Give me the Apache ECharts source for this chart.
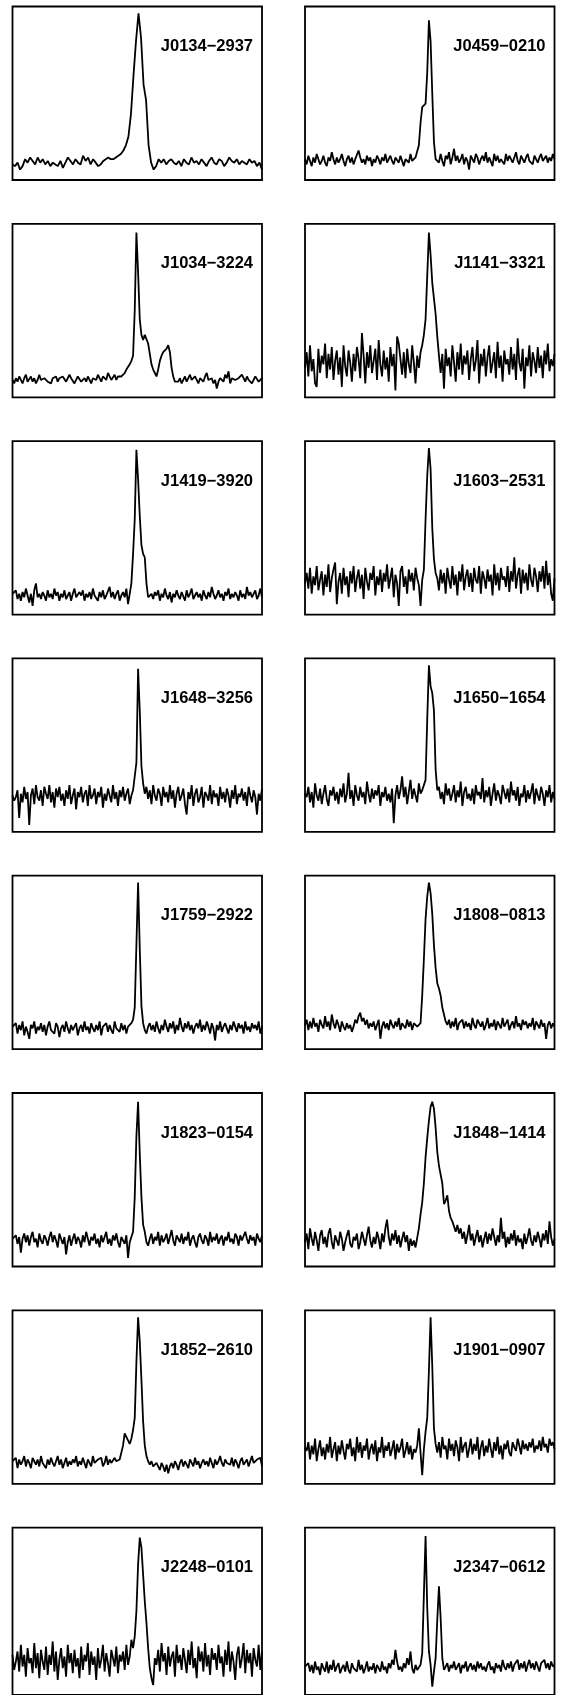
<!DOCTYPE html>
<html><head><meta charset="utf-8">
<script src="https://cdn.jsdelivr.net/npm/echarts@6/dist/echarts.min.js"></script>
<style>html,body{margin:0;padding:0;background:#fff}#c{width:566px;height:1695px}</style>
</head><body><div id="c"></div>
<script>
const names = ["J0134\u22122937","J0459\u22120210","J1034\u22123224","J1141\u22123321",
"J1419\u22123920","J1603\u22122531","J1648\u22123256","J1650\u22121654",
"J1759\u22122922","J1808\u22120813","J1823\u22120154","J1848\u22121414",
"J1852\u22122610","J1901\u22120907","J2248\u22120101","J2347\u22120612"];

const sJ0134 = [9,8,10,6,8,12,10,13,11,9,
13,10,12,9,11,8,10,9,8,11,
7,10,13,11,9,12,10,9,14,11,
13,9,12,10,8,9,11,12,13,12,
12,13,14,15,17,20,25,38,60,80,
96,82,55,46,20,10,6,8,12,10,
12,9,11,12,10,9,11,8,12,10,
9,13,10,11,9,12,10,8,11,13,
10,9,12,11,8,10,13,11,10,12,
9,11,10,9,12,10,11,8,10,6];

const sJ0459 = [12,9,14,11,8,13,10,15,12,9,
11,14,10,8,13,11,16,12,9,13,
10,12,15,11,8,12,14,10,13,9,
12,11,17,13,10,12,9,14,11,13,
8,12,10,14,12,9,13,11,15,10,
12,14,11,9,13,12,10,14,11,8,
12,13,10,15,11,12,13,
13,20,33,42,41,44,62,92,80,50,22,12,
13,10,15,11,8,14,12,16,9,13,
18,11,14,10,12,15,9,13,11,6,
14,12,10,15,13,9,12,14,11,16,
10,13,12,8,15,11,14,10,12,13,
9,15,11,14,12,10,13,16,11,9,
14,12,10,13,15,11,12,9,14,12,
10,13,15,11,12,14,10,13,11,15,
12];

const sJ1034 = [10,8,11,9,12,10,8,11,13,9,
10,12,9,11,8,10,13,10,9,11,
12,9,10,8,11,10,12,9,11,10,
12,11,9,10,13,11,10,8,10,12,
11,9,10,11,9,12,10,8,11,12,
10,13,11,9,12,11,10,14,12,10,
11,13,10,12,11,12,
13,14,16,17,19,21,24,50,95,72,45,36,33,36,37,31,25,19,16,14,12,16,21,24,26,25,28,30,26,17,12,9,10,
9,11,8,10,12,9,11,13,10,9,
12,10,8,11,10,9,12,14,10,9,
11,8,10,5,9,11,10,9,13,11,
15,8,11,12,10,9,11,10,13,11,
9,12,10,11,8,10,12,11,9,10,
11];

const sJ1141 = [17,26,12,30,15,22,8,6,28,14,
24,19,31,11,25,16,29,10,21,27,
13,23,6,30,18,12,27,20,9,25,
15,29,22,11,37,24,8,26,17,30,
14,21,28,10,33,19,12,27,16,23,
9,29,18,25,4,35,31,22,13,26,
11,28,19,14,30,20,8,24,17,26,
30,36,45,70,95,82,66,57,48,35,24,
14,25,5,28,18,23,12,30,20,9,
26,16,31,13,24,19,27,10,22,29,
15,21,33,8,25,18,28,12,23,30,
14,20,26,11,32,17,24,9,27,19,
22,13,29,16,25,10,34,20,15,28,
5,23,18,30,12,26,21,14,29,17,
24,11,27,19,31,15,22,18,25];

const sJ1419 = [12,11,14,9,12,8,13,10,15,11,7,
12,5,14,18,10,12,9,13,11,8,
14,10,12,9,15,11,13,8,12,10,
14,9,11,13,8,12,15,10,9,13,
11,14,8,12,10,13,9,15,11,12,
8,13,10,14,9,11,12,16,10,13,
9,12,14,8,11,13,10,15,6,
12,18,35,55,95,78,57,40,35,33,18,10,9,
12,9,13,11,14,8,12,10,15,11,
9,13,7,12,10,14,11,9,13,12,
8,14,10,12,15,9,11,13,10,12,
8,14,11,9,13,10,16,12,9,11,
14,10,12,8,13,11,15,9,12,10,
13,11,8,14,10,12,9,16,11,13,
10,12,14,9,11,15,10];

const sJ1603 = [18,24,15,27,12,22,17,28,14,20,
25,11,23,16,29,13,21,26,30,6,
19,24,12,27,17,22,10,25,18,28,
13,21,26,15,23,9,27,19,14,24,
20,28,11,22,17,26,13,24,19,29,
15,21,27,10,23,18,5,25,28,16,
22,12,26,19,24,14,27,21,17,5,
20,26,55,80,96,84,50,32,24,
21,14,26,18,24,12,27,20,15,28,
17,23,11,25,19,29,14,22,26,16,
24,13,27,20,18,28,12,25,21,15,
26,19,23,11,29,17,24,14,27,20,
22,16,28,13,25,19,33,15,23,27,
12,26,18,24,14,29,20,16,27,22,
13,25,19,28,15,31,17,24,12,8,
21];

const sJ1648 = [21,18,20,24,8,22,17,26,19,23,4,21,
25,16,27,20,18,24,15,26,22,19,
27,17,23,14,25,20,26,18,22,15,
24,19,27,16,21,25,13,23,20,26,
17,22,24,15,27,19,21,25,16,23,
20,26,14,22,18,25,21,17,27,19,
23,15,24,20,26,18,22,25,16,21,
24,23,
40,94,70,38,28,22,
26,19,24,16,27,21,18,25,22,15,
26,20,23,17,27,19,24,14,22,26,
18,21,25,16,10,23,19,27,15,22,
25,17,20,26,14,23,21,18,27,16,
24,20,22,15,26,19,23,17,25,21,
14,24,19,27,16,22,20,25,18,23,
15,26,21,17,24,20,10,22,18,25];

const sJ1650 = [22,20,26,17,23,14,28,21,18,25,16,
22,27,19,15,24,21,26,18,23,16,
25,20,28,17,22,34,19,24,15,27,
21,18,26,20,23,16,29,22,17,25,
19,24,21,27,15,23,20,26,18,22,
17,25,5,21,27,19,24,32,20,26,
16,23,30,19,25,21,17,28,22,24,
24,30,65,96,84,80,70,36,24,
26,19,23,16,28,21,25,18,22,27,
17,24,20,29,15,23,26,19,22,18,
25,16,27,21,23,19,31,17,24,20,
26,15,22,28,18,24,21,16,27,23,
19,25,17,29,21,24,18,26,15,22,
20,27,17,24,19,23,28,16,25,21,
18,26,22,15,24,20,27,17,23,19];

const sJ1759 = [13,12,15,9,14,11,16,8,13,10,6,
14,12,16,9,13,11,15,10,14,8,
13,16,11,12,9,15,13,7,12,14,
10,16,12,9,14,11,13,15,8,12,
14,10,16,11,13,9,15,12,10,14,
11,16,8,13,12,15,10,14,11,9,
16,12,13,10,15,11,14,9,13,12,
15,
17,24,60,96,58,25,15,11,
9,13,15,11,14,10,16,12,9,14,
11,17,13,10,15,12,16,9,14,11,
18,13,10,15,12,16,11,14,9,13,
15,12,17,10,14,11,16,13,9,15,
12,5,14,11,16,10,13,15,12,9,
14,11,16,13,10,15,12,14,9,16,
11,13,10,15,12,14,11,16,9,13];

const sJ1808 = [14,17,11,16,12,18,13,15,10,17,
14,12,19,13,16,11,20,15,12,17,
14,10,16,13,11,15,12,14,10,13,
17,15,19,21,16,18,14,17,12,15,
13,16,11,14,17,6,13,16,12,15,
11,17,14,12,16,13,18,11,15,14,
12,17,13,16,11,15,14,13,
12,15,31,52,75,88,96,90,78,60,47,38,35,31,24,20,16,
14,17,12,16,13,18,11,15,14,17,
12,16,13,15,11,18,14,12,17,15,
13,16,11,14,18,12,15,13,17,11,
16,14,12,18,13,15,17,11,14,16,
12,19,13,15,11,17,14,16,12,15,
13,18,11,16,14,12,17,13,15,6,
14,16,12,15,13];

const sJ1823 = [16,15,18,13,17,8,16,19,14,18,12,
17,20,14,16,11,19,15,13,18,16,
12,17,20,14,18,15,11,19,16,13,
17,7,14,18,12,16,19,13,17,15,
11,18,14,20,16,12,17,15,19,13,
16,11,18,14,17,20,13,16,12,18,
15,19,14,11,17,16,13,18,5,14,
17,
20,40,75,95,65,40,24,20,14,12,
16,19,13,17,15,20,12,18,14,16,
19,13,17,21,15,12,18,16,14,19,
13,17,15,20,12,16,18,14,11,17,
19,15,13,18,16,12,20,14,17,15,
19,13,16,18,12,17,15,20,14,16,
13,19,17,12,18,15,14,20,16,13,
18,15,17,12,19,16,14,18];

const sJ1848 = [14,19,10,22,16,12,20,15,9,18,
21,13,17,11,19,22,14,10,18,15,
12,20,16,9,14,18,21,13,11,17,
15,19,10,14,20,16,12,18,23,15,
11,17,13,20,16,10,19,14,22,27,
17,12,19,15,21,13,18,11,16,20,
14,18,9,16,12,15,11,
12,22,30,37,48,63,74,84,92,95,91,80,66,58,57,48,36,38,41,32,28,26,23,20,24,19,
22,16,20,13,18,24,15,19,12,17,
21,14,18,11,16,20,13,19,15,22,
17,12,18,14,28,16,20,11,17,13,
19,15,21,12,18,14,16,10,19,13,
17,22,15,12,18,14,20,16,11,19,
15,21,13,26,17,12,16];

const sJ1852 = [13,12,15,9,14,11,13,16,10,14,12,
9,15,13,11,14,10,16,12,13,9,
14,11,15,12,10,13,16,11,14,9,
12,15,10,13,11,14,12,16,10,13,
11,15,12,9,14,13,10,16,12,11,
14,13,15,10,12,16,11,14,12,13,
15,13,14,14,
15,22,29,28,25,23,26,31,38,70,96,82,60,36,22,16,13,
11,13,10,9,12,11,8,12,10,7,
11,6,10,12,9,13,11,8,12,14,
10,13,11,9,14,12,10,15,11,13,
9,12,14,11,13,10,15,12,9,14,
11,13,16,12,10,14,12,13,11,15,
10,14,12,9,13,15,11,12,14,10,
13,16,12,11,14,13,15,10];

const sJ1901 = [21,19,24,14,22,17,26,13,20,25,16,
21,14,23,18,27,15,20,24,13,22,
17,25,19,14,23,20,26,16,21,13,
27,18,24,15,22,19,26,14,20,23,
17,25,13,21,18,27,15,22,19,24,
16,20,25,14,23,18,21,26,15,19,
24,17,22,14,20,18,
22,32,18,5,20,30,38,65,96,68,32,23,
18,24,15,27,20,22,14,26,19,23,
16,25,21,13,27,18,22,24,15,20,
26,17,23,19,27,14,21,25,16,22,
18,26,20,15,24,19,27,17,22,14,
23,20,25,18,16,24,21,19,26,22,
17,25,20,23,19,24,21,26,18,22,
20,25,19,27,21,23,18,26,22,24,
20];

const sJ2248 = [24,15,20,26,14,30,17,24,11,28,19,22,
13,31,16,25,10,27,20,15,29,12,
24,18,32,14,26,9,21,28,16,23,
11,30,19,25,13,27,17,22,10,29,
15,24,20,31,12,26,18,23,9,28,
16,21,30,14,25,19,11,27,22,17,
29,13,24,20,26,15,30,18,23,33,
28,35,50,78,94,88,72,56,43,28,16,10,6,22,
18,27,14,31,20,25,12,29,17,23,
26,11,30,19,24,15,28,21,13,27,
18,32,16,22,10,29,20,26,14,31,
17,24,12,28,21,25,15,30,19,23,
11,27,18,32,14,26,20,9,24,29,
16,22,31,13,27,19,25,11,28,21,
17,30,15,26];

const sJ2347 = [17,16,19,14,18,13,20,15,17,12,19,
16,14,20,13,18,15,21,14,17,19,
13,16,18,14,20,15,13,19,16,17,
14,21,15,18,13,16,20,14,17,15,
19,13,18,16,14,20,15,17,13,19,
16,21,18,27,20,15,17,14,19,16,
22,18,26,16,13,18,15,16,
18,25,60,95,52,26,18,5,14,22,45,65,46,22,15,
17,19,14,18,16,20,15,17,19,13,
18,16,20,14,17,19,15,18,14,20,
16,19,15,17,14,18,20,15,17,13,
19,16,18,14,21,17,15,19,16,20,
14,18,17,21,15,19,16,20,14,18,
21,16,19,15,20,17,14,19,18,21,
16,19,15,20,17,18];

const profiles = [sJ0134,sJ0459,sJ1034,sJ1141,sJ1419,sJ1603,sJ1648,sJ1650,
  sJ1759,sJ1808,sJ1823,sJ1848,sJ1852,sJ1901,sJ2248,sJ2347];

const chart = echarts.init(document.getElementById('c'), null, {renderer:'canvas'});
const colLeft = [12.5, 305], W = 249.5, H = 173.5, top0 = 6.5, rowStep = 217.3;
const grid = [], xAxis = [], yAxis = [], series = [], graphic = [];
profiles.forEach((p, k) => {
  const row = Math.floor(k / 2), col = k % 2;
  const left = colLeft[col], top = top0 + row * rowStep;
  grid.push({left: left, top: top, width: W, height: H, show: true,
    borderColor: '#000', borderWidth: 1.8, backgroundColor: 'transparent', containLabel: false});
  xAxis.push({type: 'value', gridIndex: k, min: 0, max: p.length - 1, show: false});
  yAxis.push({type: 'value', gridIndex: k, min: 0, max: 100, show: false});
  series.push({type: 'line', xAxisIndex: k, yAxisIndex: k, data: p.map((v, i) => [i, v]),
    showSymbol: false, symbol: 'none', silent: true,
    lineStyle: {color: '#000', width: 1.8}});
  graphic.push({type: 'text', x: left + W - 9, y: top + 40, silent: true,
    style: {text: names[k], fill: '#000', font: 'bold 16.5px "Liberation Sans"',
      align: 'right', verticalAlign: 'middle', textAlign: 'right', textVerticalAlign: 'middle'}});
});
chart.setOption({animation: false, backgroundColor: '#fff', grid, xAxis, yAxis, series, graphic});
</script></body></html>
